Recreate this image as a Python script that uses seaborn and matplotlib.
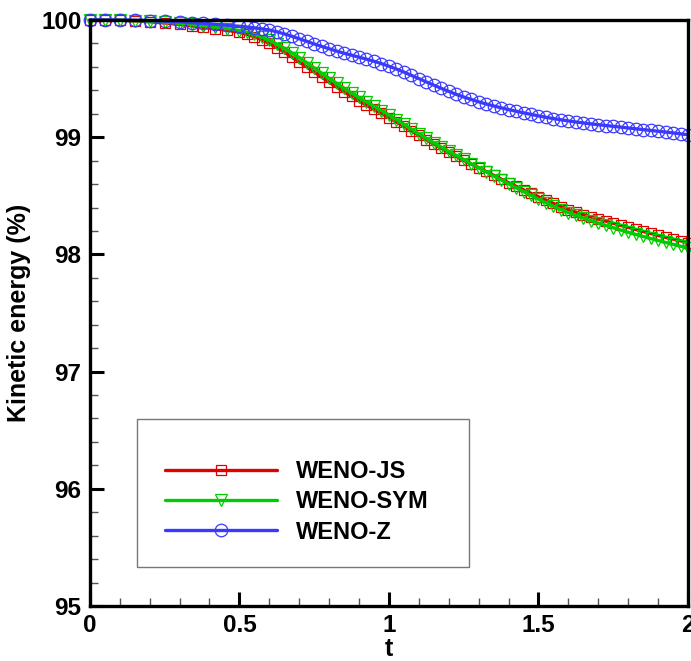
import numpy as np
import pandas as pd
import matplotlib
matplotlib.use("Agg")
import matplotlib.pyplot as plt
from matplotlib.ticker import MultipleLocator, FixedLocator, FixedFormatter
from matplotlib.patches import Rectangle
import seaborn as sns

# ---------------- data ----------------
t = [0.00, 0.05, 0.10, 0.15, 0.20, 0.25, 0.30, 0.34, 0.38, 0.42, 0.46, 0.50,
     0.525, 0.55, 0.575, 0.60, 0.625, 0.65, 0.675, 0.70, 0.725, 0.75, 0.775, 0.80,
     0.825, 0.85, 0.875, 0.90, 0.925, 0.95, 0.975, 1.00, 1.025, 1.05, 1.075, 1.10,
     1.125, 1.15, 1.175, 1.20, 1.225, 1.25, 1.275, 1.30, 1.325, 1.35, 1.375, 1.40,
     1.425, 1.45, 1.475, 1.50, 1.525, 1.55, 1.575, 1.60, 1.625, 1.65, 1.675, 1.70,
     1.725, 1.75, 1.775, 1.80, 1.825, 1.85, 1.875, 1.90, 1.925, 1.95, 1.975, 2.00]

weno_js = [100.000, 99.999, 99.998, 99.993, 99.985, 99.975, 99.962, 99.950, 99.937, 99.925, 99.912, 99.895,
           99.878, 99.858, 99.832, 99.800, 99.765, 99.727, 99.685, 99.642, 99.600, 99.557, 99.513, 99.470,
           99.428, 99.388, 99.348, 99.310, 99.273, 99.237, 99.203, 99.168, 99.130, 99.093, 99.055, 99.018,
           98.980, 98.943, 98.906, 98.870, 98.836, 98.803, 98.771, 98.740, 98.708, 98.676, 98.643, 98.612,
           98.581, 98.551, 98.521, 98.492, 98.463, 98.435, 98.408, 98.383, 98.361, 98.340, 98.320, 98.302,
           98.284, 98.266, 98.248, 98.231, 98.213, 98.196, 98.179, 98.162, 98.146, 98.131, 98.116, 98.101]

weno_sym = [100.000, 99.999, 99.998, 99.995, 99.990, 99.983, 99.972, 99.962, 99.951, 99.940, 99.927, 99.910,
            99.896, 99.878, 99.855, 99.828, 99.796, 99.760, 99.721, 99.680, 99.636, 99.592, 99.547, 99.503,
            99.460, 99.418, 99.378, 99.340, 99.302, 99.265, 99.228, 99.190, 99.150, 99.110, 99.070, 99.030,
            98.991, 98.953, 98.916, 98.880, 98.845, 98.810, 98.775, 98.740, 98.705, 98.670, 98.636, 98.602,
            98.569, 98.536, 98.504, 98.472, 98.441, 98.411, 98.383, 98.357, 98.333, 98.310, 98.289, 98.268,
            98.248, 98.228, 98.208, 98.189, 98.171, 98.153, 98.136, 98.119, 98.102, 98.086, 98.070, 98.054]

weno_z = [100.000, 100.000, 99.999, 99.998, 99.995, 99.991, 99.985, 99.978, 99.971, 99.963, 99.955, 99.946,
          99.940, 99.933, 99.925, 99.915, 99.900, 99.882, 99.862, 99.840, 99.818, 99.796, 99.775, 99.755,
          99.735, 99.717, 99.700, 99.683, 99.666, 99.648, 99.628, 99.606, 99.582, 99.556, 99.528, 99.500,
          99.472, 99.444, 99.417, 99.391, 99.366, 99.343, 99.322, 99.302, 99.284, 99.267, 99.251, 99.236,
          99.222, 99.208, 99.195, 99.182, 99.170, 99.159, 99.149, 99.139, 99.130, 99.122, 99.114, 99.107,
          99.100, 99.093, 99.086, 99.079, 99.072, 99.065, 99.058, 99.051, 99.044, 99.037, 99.029, 99.021]

labels = ["WENO-JS", "WENO-SYM", "WENO-Z"]
x_ticks = [0, 0.5, 1, 1.5, 2]
x_tick_labels = ["0", "0.5", "1", "1.5", "2"]
y_ticks = [95, 96, 97, 98, 99, 100]
y_tick_labels = ["95", "96", "97", "98", "99", "100"]

# ---------------- style ----------------
sns.set_theme(style="ticks")
plt.rcParams["font.family"] = ["Liberation Sans", "DejaVu Sans"]
plt.rcParams["font.weight"] = "bold"
plt.rcParams["text.color"] = "black"
plt.rcParams["axes.labelcolor"] = "black"
plt.rcParams["xtick.color"] = "black"
plt.rcParams["ytick.color"] = "black"

colors = ["#e00000", "#00cc00", "#3a3aff"]
markers = ["s", "v", "o"]
msizes = [7.0, 8.5, 9.0]

fig = plt.figure(figsize=(6.91, 6.61), dpi=100)
ax = fig.add_axes([0.130, 0.0832, 0.8657, 0.8865])

series = [weno_js, weno_sym, weno_z]
for vals, lab, c, m, ms in zip(series, labels, colors, markers, msizes):
    df = pd.DataFrame({"t": t, "ke": vals})
    sns.lineplot(data=df, x="t", y="ke", ax=ax, color=c, lw=2.4, marker=m,
                 markersize=ms, markerfacecolor="none", markeredgecolor=c,
                 markeredgewidth=0.9, label=lab, sort=False, errorbar=None,
                 clip_on=False, legend=False)

ax.set_xlim(0, 2)
ax.set_ylim(95, 100)
ax.xaxis.set_major_locator(FixedLocator(x_ticks))
ax.xaxis.set_major_formatter(FixedFormatter(x_tick_labels))
ax.yaxis.set_major_locator(FixedLocator(y_ticks))
ax.yaxis.set_major_formatter(FixedFormatter(y_tick_labels))
ax.xaxis.set_minor_locator(MultipleLocator(0.1))
ax.yaxis.set_minor_locator(MultipleLocator(0.2))

ax.tick_params(which="major", direction="in", length=10, width=2.2, color="black",
               labelsize=17.5, pad=6, top=False, right=False, labelcolor="black")
ax.tick_params(which="minor", direction="in", length=6, width=1.0, color="#555555",
               top=False, right=False)
for lab in ax.get_xticklabels() + ax.get_yticklabels():
    lab.set_fontweight("bold")

for s in ax.spines.values():
    s.set_linewidth(2.4)
    s.set_color("black")
    s.set_visible(True)

ax.set_xlabel("t", fontsize=18, fontweight="bold", labelpad=0, color="black")
ax.set_ylabel("Kinetic energy (%)", fontsize=18, fontweight="bold", labelpad=7, color="black")

# legend frame
ax.add_patch(Rectangle((0.0786, 0.066), 0.555, 0.253, transform=ax.transAxes,
                       facecolor="white", edgecolor="#777777", lw=1.0, zorder=3))
handles, _ = ax.get_legend_handles_labels()
leg = ax.legend(handles=handles, labels=labels, loc="center left",
                bbox_to_anchor=(0.1254, 0.178), frameon=False,
                handlelength=4.75, handletextpad=0.8, labelspacing=0.31,
                borderpad=0.0, borderaxespad=0.0, prop={"weight": "bold", "size": 17})
leg.set_zorder(4)
for txt in leg.get_texts():
    txt.set_color("black")

fig.savefig("out.png", dpi=100, facecolor="white")
